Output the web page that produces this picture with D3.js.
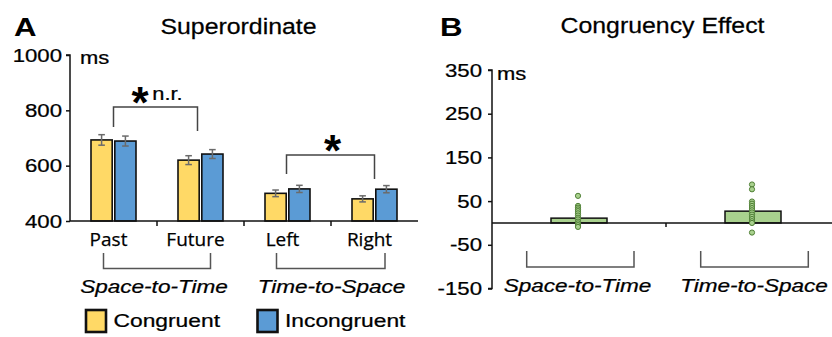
<!DOCTYPE html>
<html>
<head>
<meta charset="utf-8">
<script src="https://cdn.jsdelivr.net/npm/d3@7"></script>
<style>
html,body{margin:0;padding:0;background:#fff;}
svg{display:block;}
</style>
</head>
<body>
<svg id="chart" width="832" height="337"></svg>
<script>
// ---------- data ----------
const categoriesA = ["Past", "Future", "Left", "Right"];
const congruentRT = [693, 620, 500, 480];
const incongruentRT = [689, 642, 516, 515];
const congruentErr = [19, 16, 12, 11];
const incongruentErr = [18, 16, 13, 13];
const yTicksA = [400, 600, 800, 1000];
const seriesA = ["Congruent", "Incongruent"];
const taskGroups = ["Space-to-Time", "Time-to-Space"];

const effectMean = [11, 27];
const dotsSpaceToTime = [62, 39, 35, 31, 27, 22, 17, 12, 8, 3, -1, -5, -9];
const dotsTimeToSpace = [88, 77, 49, 44, 39, 34, 29, 24, 19, 14, 9, 4, 0, -22];
const yTicksB = [-150, -50, 50, 150, 250, 350];

// ---------- styles ----------
const YELLOW = "#FFD966", BLUE = "#5B9BD5", GREEN = "#A9D18E";
const SANS = "'Liberation Sans', Arial, sans-serif";
const OPEN = "'Open Sans', 'Liberation Sans', sans-serif";
const SX = 1.2;

const svg = d3.select("#chart");

function txt(x, y, s, o = {}) {
  return svg.append("text")
    .attr("transform", `translate(${x},${y}) scale(${o.sx ?? SX},1)`)
    .attr("text-anchor", o.anchor || "start")
    .attr("font-family", o.family || SANS)
    .attr("font-size", o.size || 18)
    .attr("font-weight", o.weight || "normal")
    .attr("font-style", o.style || "normal")
    .attr("fill", o.fill || "#000")
    .attr("stroke", o.weight === "bold" ? "none" : "#000")
    .attr("stroke-width", o.weight === "bold" ? 0 : 0.25)
    .text(s);
}

// ================= Panel A =================
const xA = d3.scaleBand().domain(categoriesA).range([70, 418]);
const cA = c => xA(c) + xA.bandwidth() / 2;
const xInner = d3.scaleBand().domain(seriesA).range([-22.5, 22.5]).paddingInner(0.11);
const yA = d3.scaleLinear().domain([400, 1000]).range([221, 55]);

const gA = svg.append("g");
// y axis
const yAxisA = d3.axisLeft(yA).tickValues(yTicksA).tickSize(4).tickFormat(d3.format("d"));
const gyA = gA.append("g").attr("transform", "translate(70,0)").call(yAxisA);
gyA.select(".domain").attr("stroke", "#111").attr("stroke-width", 1.5).attr("d", `M-4,${yA(1000)}H0V${yA(400)}`);
gyA.selectAll(".tick line").attr("stroke", "#111").attr("stroke-width", 1.5);
gyA.selectAll(".tick text").remove();
yTicksA.forEach(t => txt(62, yA(t) + 6.5, String(t), {anchor: "end", size: 18.5}));

// bars
const barData = [];
categoriesA.forEach((c, i) => {
  barData.push({cat: c, s: "Congruent", v: congruentRT[i], e: congruentErr[i], fill: YELLOW});
  barData.push({cat: c, s: "Incongruent", v: incongruentRT[i], e: incongruentErr[i], fill: BLUE});
});
gA.selectAll("rect.bar").data(barData).join("rect")
  .attr("class", "bar")
  .attr("x", d => cA(d.cat) + xInner(d.s))
  .attr("width", xInner.bandwidth())
  .attr("y", d => yA(d.v))
  .attr("height", d => yA(400) - yA(d.v))
  .attr("fill", d => d.fill)
  .attr("stroke", "#111").attr("stroke-width", 1.6);

// error bars
const eb = gA.selectAll("g.eb").data(barData).join("g").attr("class", "eb")
  .attr("stroke", "#6b6b6b").attr("stroke-width", 1.5);
const ebx = d => cA(d.cat) + xInner(d.s) + xInner.bandwidth() / 2;
eb.append("line").attr("x1", ebx).attr("x2", ebx).attr("y1", d => yA(d.v + d.e)).attr("y2", d => yA(d.v - d.e));
eb.append("line").attr("x1", d => ebx(d) - 3.3).attr("x2", d => ebx(d) + 3.3).attr("y1", d => yA(d.v + d.e)).attr("y2", d => yA(d.v + d.e));
eb.append("line").attr("x1", d => ebx(d) - 3.3).attr("x2", d => ebx(d) + 3.3).attr("y1", d => yA(d.v - d.e)).attr("y2", d => yA(d.v - d.e));

// x axis
gA.append("line").attr("x1", 70).attr("x2", 418).attr("y1", yA(400)).attr("y2", yA(400))
  .attr("stroke", "#111").attr("stroke-width", 1.5);
categoriesA.slice(1).forEach(c => {
  gA.append("line").attr("x1", xA(c)).attr("x2", xA(c)).attr("y1", yA(400)).attr("y2", yA(400) + 5)
    .attr("stroke", "#111").attr("stroke-width", 1.5);
});

// category labels
categoriesA.forEach(c => txt(cA(c) - 5, 246, c, {anchor: "middle", family: OPEN, size: 19, sx: 1.0}));

// group brackets A
function groupBracket(x1, x2, yTop, yBot) {
  svg.append("path").attr("d", `M${x1},${yTop}V${yBot}H${x2}V${yTop}`)
    .attr("fill", "none").attr("stroke", "#555").attr("stroke-width", 1.5);
}
groupBracket(cA("Past") - 10, cA("Future") + 10, 253, 268.5);
groupBracket(cA("Left") - 11, cA("Right") + 10.5, 253, 268.5);
txt(154, 293, taskGroups[0], {anchor: "middle", style: "italic", size: 18.5, sx: 1.22});
txt(331.5, 293, taskGroups[1], {anchor: "middle", style: "italic", size: 18.5, sx: 1.22});

// significance brackets
function sigBracket(x1, x2, yTop, yL, yR) {
  gA.append("path").attr("d", `M${x1},${yL}V${yTop}H${x2}V${yR}`)
    .attr("fill", "none").attr("stroke", "#444").attr("stroke-width", 1.5);
}
sigBracket(cA("Past"), cA("Future") - 3, 107, 127, 131);
sigBracket(cA("Left") - 1, cA("Right"), 155, 174, 179);
txt(140, 118, "*", {anchor: "middle", weight: "bold", size: 44, sx: 1.0});
txt(167.5, 100, "n.r.", {anchor: "middle", size: 19, sx: 1.15});
txt(332.5, 166, "*", {anchor: "middle", weight: "bold", size: 44, sx: 1.0});

// titles
txt(14, 35.5, "A", {weight: "bold", size: 26, sx: 1.2});
txt(238.5, 33.5, "Superordinate", {anchor: "middle", size: 22, sx: 1.13});
txt(80, 64, "ms", {size: 18, sx: 1.22});

// legend
const legend = [{label: seriesA[0], fill: YELLOW, x: 86}, {label: seriesA[1], fill: BLUE, x: 257.5}];
legend.forEach(l => {
  svg.append("rect").attr("x", l.x).attr("y", 310).attr("width", 20).attr("height", 22)
    .attr("fill", l.fill).attr("stroke", "#111").attr("stroke-width", 2.6);
  txt(l.x + 27.5, 327, l.label, {size: 18.7, sx: 1.22});
});

// ================= Panel B =================
const xB = d3.scaleBand().domain(taskGroups).range([492, 840]);
const cB = c => xB(c) + xB.bandwidth() / 2;
const yB = d3.scaleLinear().domain([-150, 350]).range([288.5, 70]);
const gB = svg.append("g");

const yAxisB = d3.axisLeft(yB).tickValues(yTicksB).tickSize(4);
const gyB = gB.append("g").attr("transform", "translate(492,0)").call(yAxisB);
gyB.select(".domain").attr("stroke", "#111").attr("stroke-width", 1.5).attr("d", `M-4,${yB(350)}H0V${yB(-150)}H-4`);
gyB.selectAll(".tick line").attr("stroke", "#111").attr("stroke-width", 1.5);
gyB.selectAll(".tick text").remove();
yTicksB.forEach(t => txt(482, yB(t) + 6.5, String(t), {anchor: "end", size: 18.5}));

// bars
const barW = 56;
gB.selectAll("rect.bar").data(taskGroups).join("rect")
  .attr("class", "bar")
  .attr("x", (d) => cB(d) - barW / 2)
  .attr("width", barW)
  .attr("y", (d, i) => yB(effectMean[i]))
  .attr("height", (d, i) => yB(0) - yB(effectMean[i]))
  .attr("fill", GREEN).attr("stroke", "#111").attr("stroke-width", 1.5);

// zero axis
gB.append("line").attr("x1", 492).attr("x2", 832).attr("y1", yB(0)).attr("y2", yB(0))
  .attr("stroke", "#111").attr("stroke-width", 1.5);
gB.append("line").attr("x1", xB(taskGroups[1])).attr("x2", xB(taskGroups[1]))
  .attr("y1", yB(0)).attr("y2", yB(0) + 4).attr("stroke", "#111").attr("stroke-width", 1.5);

// dots
const dotData = [];
dotsSpaceToTime.forEach(v => dotData.push({g: taskGroups[0], v}));
dotsTimeToSpace.forEach(v => dotData.push({g: taskGroups[1], v}));
gB.selectAll("circle.dot").data(dotData).join("circle")
  .attr("class", "dot")
  .attr("cx", d => cB(d.g) - 1)
  .attr("cy", d => yB(d.v))
  .attr("r", 2.6)
  .attr("fill", GREEN).attr("stroke", "#4f7f35").attr("stroke-width", 1);

// group brackets B
groupBracket(526.7, 634, 251, 267);
groupBracket(700.7, 808.3, 251, 267);
txt(577.5, 291.5, taskGroups[0], {anchor: "middle", style: "italic", size: 18.5, sx: 1.22});
txt(754, 291.5, taskGroups[1], {anchor: "middle", style: "italic", size: 18.5, sx: 1.22});

// titles B
txt(440, 35.5, "B", {weight: "bold", size: 26, sx: 1.2});
txt(662.5, 32.5, "Congruency Effect", {anchor: "middle", size: 22, sx: 1.13});
txt(497, 80, "ms", {size: 18, sx: 1.22});
</script>
</body>
</html>
